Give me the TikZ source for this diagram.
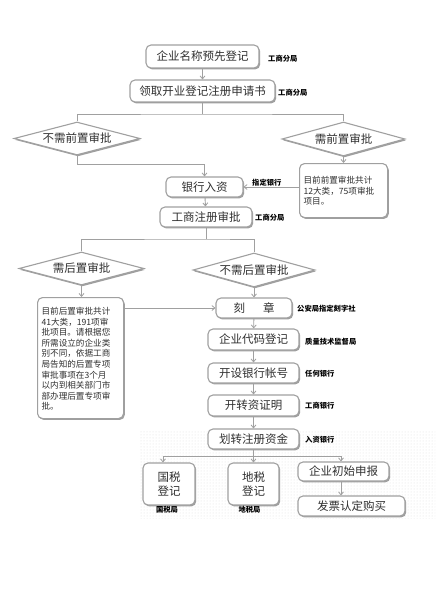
\documentclass[tikz,border=0pt]{standalone}
\usepackage{fontspec}
\setmainfont{Noto Sans CJK SC}
\usetikzlibrary{shapes.geometric,arrows.meta,shadows,patterns}
\definecolor{edge}{HTML}{A0A0A0}
\definecolor{ink}{HTML}{303030}
\begin{document}
\begin{tikzpicture}[x=1pt,y=-1pt,
  box/.style={draw=edge, line width=1.1pt, fill=white, rounded corners=5pt,
    inner sep=0pt, text=ink, font=\fontsize{11.5}{13}\selectfont,
    drop shadow={shadow xshift=1.2pt, shadow yshift=-1.4pt, fill=gray!75, opacity=1}},
  note/.style={box, font=\fontsize{8.6}{10.6}\selectfont, align=left},
  dia/.style={draw=edge, line width=1.1pt, fill=white, shape=diamond, aspect=3.8, inner sep=0pt,
    text=ink, font=\fontsize{11.5}{13}\selectfont,
    drop shadow={shadow xshift=1pt, shadow yshift=-1.4pt, fill=gray!75, opacity=1}},
  lbl/.style={font=\fontsize{7.3}{8}\selectfont\bfseries, text=black, inner sep=0pt},
  con/.style={draw=edge, line width=0.9pt},
  arr/.style={con, -{Straight Barb[length=3pt,width=5pt,line width=0.8pt]}}
]
\useasboundingbox (0,0) rectangle (443,591);
\fill[white] (0,0) rectangle (443,591);
% dotted background area
\path[pattern=dots, pattern color=gray!25] (140,430) rectangle (435,518);

% nodes
\node[box, minimum width=113pt, minimum height=23pt] (n1) at (202.5,56.5) {企业名称预先登记};
\node[box, minimum width=145pt, minimum height=22pt] (n2) at (202.5,91) {领取开业登记注册申请书};
\node[dia, minimum width=126pt, minimum height=33pt] (d1) at (77,138.5) {不需前置审批};
\node[dia, minimum width=123pt, minimum height=34pt] (d2) at (343.5,139) {需前置审批};
\node[box, minimum width=77pt, minimum height=20pt] (bank) at (204.5,187) {银行入资};
\node[note, minimum width=88pt, minimum height=54pt, anchor=north west, text width=80pt] (pre) at (299,163)
  {\rule{0pt}{8pt}目前前置审批共计\\12大类，75项审批\\项目。\\[14pt]};
\node[box, minimum width=92pt, minimum height=20pt] (reg) at (206,217) {工商注册审批};
\node[dia, minimum width=125pt, minimum height=33pt] (d3) at (81.5,268.5) {需后置审批};
\node[dia, minimum width=122pt, minimum height=34pt] (d4) at (254,270) {不需后置审批};
\node[note, minimum width=86pt, minimum height=121pt, anchor=north west, text width=78pt] (post) at (37,297)
  {\rule{0pt}{9pt}目前后置审批共计\\41大类，191项审\\批项目。请根据您\\所需设立的企业类\\别不同，依据工商\\局告知的后置专项\\审批事项在3个月\\以内到相关部门市\\部办理后置专项审\\批。\\[4pt]};
\node[box, minimum width=76pt, minimum height=20pt] (seal) at (254,308) {刻\hspace{18pt}章};
\node[box, minimum width=91pt, minimum height=21pt] (code) at (253.5,339.5) {企业代码登记};
\node[box, minimum width=91pt, minimum height=20pt] (acct) at (253.5,373) {开设银行帐号};
\node[box, minimum width=91pt, minimum height=21pt] (cert) at (253.5,405.5) {开转资证明};
\node[box, minimum width=91pt, minimum height=20pt] (fund) at (253.5,439) {划转注册资金};
\node[box, minimum width=52pt, minimum height=42pt, align=center, font=\fontsize{11.5}{13.5}\selectfont] (gs) at (169,484) {国税\\登记};
\node[box, minimum width=51pt, minimum height=42pt, align=center, font=\fontsize{11.5}{13.5}\selectfont] (ds) at (253.5,484) {地税\\登记};
\node[box, minimum width=91pt, minimum height=19pt] (init) at (343.5,471.5) {企业初始申报};
\node[box, minimum width=107pt, minimum height=20pt] (inv) at (351.5,506) {发票认定购买};

% labels
\node[lbl, anchor=west] (l1) at (268,59) {工商分局};
\node[lbl, anchor=west] (l2) at (278,93) {工商分局};
\node[lbl, anchor=west] (l3) at (252,183) {指定银行};
\node[lbl, anchor=west] (l4) at (255,218) {工商分局};
\node[lbl, anchor=west] (l5) at (297,309) {公安局指定刻字社};
\node[lbl, anchor=west] (l6) at (305,342) {质量技术监督局};
\node[lbl, anchor=west] (l7) at (305,374) {任何银行};
\node[lbl, anchor=west] (l8) at (305,406) {工商银行};
\node[lbl, anchor=west] (l9) at (305,440) {入资银行};
\node[lbl] (l10) at (167,509.5) {国税局};
\node[lbl] (l11) at (249.5,509.5) {地税局};

% junction coordinates
\coordinate (j1) at (202.5,114);
\coordinate (j2) at (77,164);
\coordinate (j3) at (206,239);
\coordinate (j4) at (253.5,456);
\coordinate (gsx) at (163,470);
\coordinate (inx) at (341,470);

% connectors
\draw[arr] (n1) -- (n2);
\draw[con] (n2.south) -- (j1);
\draw[con] (d1.north) |- (j1) -| (d2.north);
\draw[arr] (d1.south) |- (j2 -| bank.north) -- (bank.north);
\draw[arr] (d2.south) -- (pre.north -| d2.south);
\draw[arr] (pre.west |- bank.east) -- (bank.east);
\draw[arr] (bank) -- (reg);
\draw[con] (reg.south) -- (j3);
\draw[con] (d3.north) |- (j3) -| (d4.north);
\draw[arr] (d3.south) -- (post.north -| d3.south);
\draw[arr] (d4.south) -- (seal.north);
\draw[arr] (post.east |- seal.west) -- (seal.west);
\draw[arr] (seal) -- (code);
\draw[arr] (code) -- (acct);
\draw[arr] (acct) -- (cert);
\draw[arr] (cert) -- (fund);
\draw[con] (fund.south) -- (j4);
\draw[con] (j4 -| gsx) -- (j4 -| inx);
\draw[arr] (j4 -| gsx) -- (gsx |- gs.north);
\draw[arr] (j4) -- (ds.north);
\draw[arr] (j4 -| inx) -- (inx |- init.north);
\draw[arr] (inx |- init.south) -- (inx |- inv.north);
\end{tikzpicture}
\end{document}
